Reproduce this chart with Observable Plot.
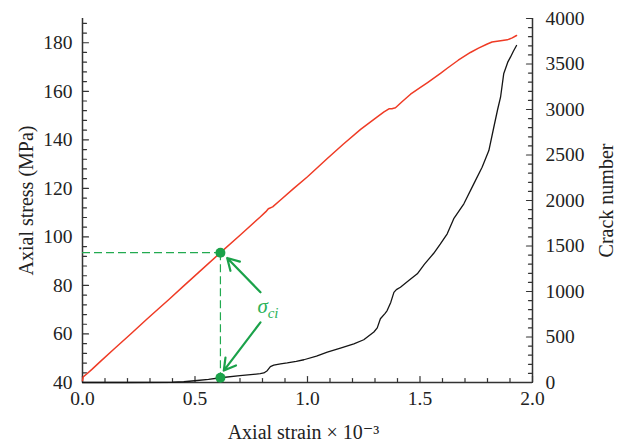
<!DOCTYPE html>
<html><head><meta charset="utf-8">
<script src="https://cdn.jsdelivr.net/npm/d3@7"></script>
<script src="https://cdn.jsdelivr.net/npm/@observablehq/plot@0.6"></script>
<style>body{margin:0;background:#fff;} svg{display:block;}</style>
</head><body><div id="chart"></div>
<script>
// ---- data ----
const stressStrain = [0, 0.003, 0.02, 0.043, 0.08, 0.139, 0.213, 0.288, 0.339, 0.384, 0.45, 0.52, 0.613, 0.70, 0.791, 0.815, 0.826, 0.845, 0.88, 0.939, 1.0, 1.088, 1.16, 1.236, 1.31, 1.34, 1.362, 1.375, 1.391, 1.42, 1.458, 1.502, 1.532, 1.591, 1.621, 1.67, 1.724, 1.76, 1.799, 1.82, 1.843, 1.866, 1.888, 1.91, 1.929];
const stressValues = [40.8, 42.3, 43.6, 45.5, 48.7, 53.7, 59.9, 66.3, 70.5, 74.2, 79.8, 85.7, 93.5, 100.7, 108.3, 110.4, 111.6, 112.4, 115.2, 120.0, 124.8, 132.3, 138.3, 144.3, 149.5, 151.5, 152.8, 152.8, 153.2, 155.7, 158.8, 161.6, 163.5, 167.4, 169.5, 172.8, 176.0, 177.8, 179.5, 180.3, 180.6, 180.9, 181.2, 182.0, 183.0];
const crackStrain = [0, 0.2, 0.4, 0.45, 0.51, 0.56, 0.613, 0.70, 0.79, 0.806, 0.821, 0.835, 0.85, 0.88, 0.91, 0.95, 0.984, 1.04, 1.088, 1.15, 1.206, 1.25, 1.295, 1.31, 1.324, 1.345, 1.354, 1.37, 1.384, 1.395, 1.413, 1.45, 1.488, 1.52, 1.561, 1.59, 1.621, 1.65, 1.695, 1.739, 1.776, 1.806, 1.828, 1.845, 1.858, 1.872, 1.89, 1.902, 1.915, 1.929];
const crackValues = [0, 0, 3, 8, 22, 35, 52, 75, 97, 105, 130, 175, 190, 205, 215, 232, 250, 290, 333, 380, 425, 470, 555, 600, 700, 760, 791, 880, 990, 1020, 1047, 1120, 1194, 1300, 1420, 1520, 1634, 1800, 1964, 2183, 2366, 2549, 2805, 3000, 3135, 3392, 3520, 3575, 3640, 3703];

const xTicks = [0, 0.5, 1.0, 1.5, 2.0];
const stressTicks = [40, 60, 80, 100, 120, 140, 160, 180];
const crackTicks = [0, 500, 1000, 1500, 2000, 2500, 3000, 3500, 4000];
const strainDomain = [0, 2];
const stressDomain = [40, 190];
const crackDomain = [0, 4000];

const sigmaCi = {strain: 0.613, stress: 93.5, crack: 52};
const sigmaLabel = {strain: 0.778, stress: 71.3, text: "σ", sub: "ci", subStrain: 0.823, subStress: 68.6};
const arrowUpper = {x1: 0.791, y1: 77.2, x2: 0.643, y2: 91.3};
const arrowLower = {x1: 0.791, y1: 64.8, x2: 0.628, y2: 44.9};

const xLabel = "Axial strain × 10⁻³";
const yLabel = "Axial stress (MPa)";
const y2Label = "Crack number";

// ---- helpers ----
const toStress = c => stressDomain[0] + (c - crackDomain[0]) * (stressDomain[1] - stressDomain[0]) / (crackDomain[1] - crackDomain[0]);
const toCrack = s => crackDomain[0] + (s - stressDomain[0]) * (crackDomain[1] - crackDomain[0]) / (stressDomain[1] - stressDomain[0]);

const stressData = stressStrain.map((x, i) => ({x, y: stressValues[i]}));
const crackData = crackStrain.map((x, i) => ({x, y: toStress(crackValues[i])}));

const xMinor = d3.range(0, 2.0001, 0.1).map(v => +v.toFixed(2));
const stressMinor = d3.range(40, 190, 4);
const crackMinor = d3.range(0, 4001, 100);

const axisColor = "#333";
const green = "#1ba24a";
const tickShape = {draw(ctx, l) { ctx.moveTo(0, 0); ctx.lineTo(0, -l); }};
const isMajorX = v => xTicks.some(t => Math.abs(t - v) < 1e-6);

const chart = Plot.plot({
  width: 624,
  height: 445,
  marginLeft: 82,
  marginRight: 92,
  marginTop: 18,
  marginBottom: 63,
  style: {fontFamily: "'Liberation Serif', 'DejaVu Serif', serif", fontSize: "19.5px", color: "#222", background: "#fff"},
  x: {domain: strainDomain},
  y: {domain: stressDomain},
  length: {type: "identity"},
  marks: [
    // axis lines
    Plot.ruleY([stressDomain[0]], {x1: strainDomain[0], x2: strainDomain[1], stroke: axisColor, strokeWidth: 1.5}),
    Plot.ruleX([strainDomain[0]], {y1: stressDomain[0], y2: stressDomain[1], stroke: axisColor, strokeWidth: 1.5}),
    Plot.ruleX([strainDomain[1]], {y1: stressDomain[0], y2: stressDomain[1], stroke: axisColor, strokeWidth: 1.5}),
    // inward ticks
    Plot.vector(xMinor, {x: d => d, y: stressDomain[0], length: d => isMajorX(d) ? 6 : 4, rotate: 0, anchor: "start", shape: tickShape, stroke: axisColor, strokeWidth: 1.2}),
    Plot.vector(stressMinor, {x: strainDomain[0], y: d => d, length: d => d % 20 === 0 ? 6 : 4, rotate: 90, anchor: "start", shape: tickShape, stroke: axisColor, strokeWidth: 1.2}),
    Plot.vector(crackMinor, {x: strainDomain[1], y: d => toStress(d), length: d => d % 500 === 0 ? 6 : 4, rotate: -90, anchor: "start", shape: tickShape, stroke: axisColor, strokeWidth: 1.2}),
    // tick labels
    Plot.axisX({ticks: xTicks, tickSize: 0, tickPadding: 9, tickFormat: d3.format(".1f"), label: null}),
    Plot.axisY({ticks: stressTicks, tickSize: 0, tickPadding: 10, label: null}),
    Plot.axisY(crackTicks.map(toStress), {anchor: "right", tickSize: 0, tickPadding: 13, tickFormat: v => String(Math.round(toCrack(v))), label: null}),
    // axis titles
    Plot.text([yLabel], {frameAnchor: "left", dx: -56, rotate: -90, textAnchor: "middle", lineAnchor: "middle", text: d => d, fontSize: 20}),
    Plot.text([y2Label], {frameAnchor: "right", dx: 74, rotate: -90, textAnchor: "middle", lineAnchor: "middle", text: d => d, fontSize: 20}),
    Plot.text([xLabel], {frameAnchor: "bottom", dx: -4, dy: 50, textAnchor: "middle", lineAnchor: "middle", text: d => d, fontSize: 20}),
    // guides
    Plot.ruleY([sigmaCi.stress], {x1: strainDomain[0], x2: sigmaCi.strain, stroke: "#22aa50", strokeWidth: 1.2, strokeDasharray: "8,4"}),
    Plot.ruleX([sigmaCi.strain], {y1: sigmaCi.stress, y2: toStress(sigmaCi.crack), stroke: "#22aa50", strokeWidth: 1.2, strokeDasharray: "8,4"}),
    // data
    Plot.line(crackData, {x: "x", y: "y", stroke: "#151515", strokeWidth: 1.3}),
    Plot.line(stressData, {x: "x", y: "y", stroke: "#ef3b25", strokeWidth: 1.5}),
    // annotations
    Plot.dot([{x: sigmaCi.strain, y: sigmaCi.stress}, {x: sigmaCi.strain, y: toStress(sigmaCi.crack)}], {x: "x", y: "y", r: 5, fill: green, stroke: "none"}),
    Plot.arrow([arrowUpper, arrowLower], {x1: "x1", y1: "y1", x2: "x2", y2: "y2", stroke: green, strokeWidth: 2.2, headLength: 9}),
    Plot.text([sigmaLabel], {x: "strain", y: "stress", text: "text", textAnchor: "start", fontStyle: "italic", fontSize: 21, fill: "#2bb35a"}),
    Plot.text([sigmaLabel], {x: "subStrain", y: "subStress", text: "sub", textAnchor: "start", fontStyle: "italic", fontSize: 15, fill: "#2bb35a"})
  ]
});
document.getElementById("chart").appendChild(chart);
</script>
</body></html>
